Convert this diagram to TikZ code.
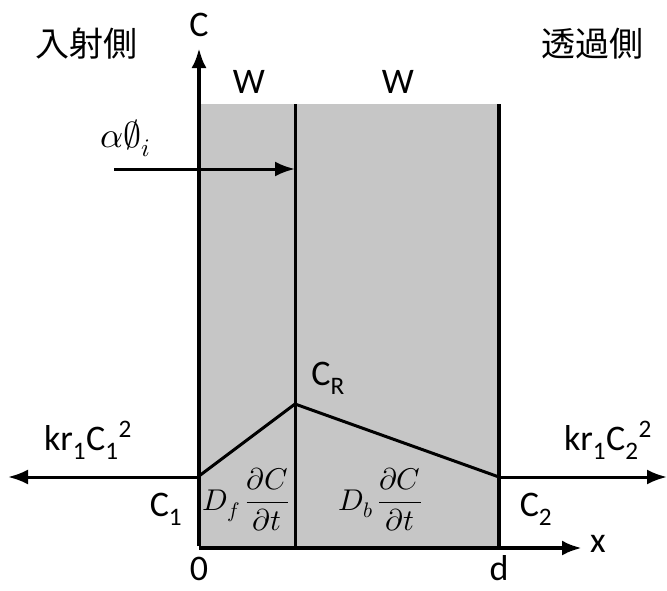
\documentclass[tikz,border=0pt]{standalone}
\usepackage{amsmath}
\usepackage{unicode-math}
\setmainfont{Carlito}
\setmathfont{Latin Modern Math}
\newfontfamily\jpfont{Noto Sans CJK JP}
\usetikzlibrary{arrows.meta}

\begin{document}
\begin{tikzpicture}[x=1pt,y=-1pt,
    lbl/.style={font=\fontsize{36}{40}\selectfont},
    axisline/.style={line width=4.5pt,-{Latex[length=20pt,width=15pt]}},
    wall/.style={line width=4.5pt},
    thinline/.style={line width=3pt},
    flux/.style={line width=3pt,-{Latex[length=20pt,width=15pt]}}]
      \useasboundingbox (0,0) rectangle (667,590);
      % membrane
      \fill [gray!45] (199,104) rectangle (499,548);
      \coordinate (O) at (199,548);
      \coordinate (Ctop) at (199,48);
      \coordinate (Xend) at (582,548);
      \coordinate (Mtop) at (295,104);
      \coordinate (Mbot) at (295,548);
      \coordinate (Rtop) at (499,104);
      \coordinate (Rbot) at (499,548);
      \coordinate (P1) at (199,476);
      \coordinate (PR) at (295,404);
      \coordinate (P2) at (499,477);
      \coordinate (Lend) at (8,477);
      \coordinate (Rend) at (667,477);
      \coordinate (Ain) at (114,169);
      \coordinate (Aout) at (295,169);
      \draw [thinline] (Mtop) -- (Mbot);
      \draw [wall] (Rtop) -- (Rbot);
      \draw [axisline] (O) -- (Xend);
      \draw [axisline] ([yshift=2pt]O) -- (Ctop);
      \draw [thinline,line join=round] (P1) -- (PR) -- (P2);
      \draw [flux] (P1 |- Lend) -- (Lend);
      \draw [flux] (P2) -- (Rend);
      \draw [flux] (Ain) -- (Aout);
      % labels
      \node [lbl] (ylab) at (199,25) {C};
      \node [lbl] (xlab) at (598,544) {x};
      \node [lbl] (zero) at (199,569) {0};
      \node [lbl] (dlab) at (499,568) {d};
      \node [lbl] (wleft) at (249,82) {W};
      \node [lbl] (wright) at (398,82) {W};
      \node [lbl,font=\fontsize{34}{38}\jpfont] (inc) at (86,44) {入射側};
      \node [lbl,font=\fontsize{34}{38}\jpfont] (tra) at (592,44) {透過側};
      \node [lbl] (alpha) at (126,138) {$\alpha\emptyset_i$};
      \node [lbl] (c1) at (166,509) {C\textsubscript{1}};
      \node [lbl] (c2) at (536,509) {C\textsubscript{2}};
      \node [lbl] (cr) at (328,378) {C\textsubscript{R}};
      \node [lbl] (kr1) at (88,440) {kr\textsubscript{1}C\textsubscript{1}\textsuperscript{2}};
      \node [lbl] (kr2) at (608,440) {kr\textsubscript{1}C\textsubscript{2}\textsuperscript{2}};
      \node [lbl,font=\fontsize{30}{34}\selectfont] (df) at (246,500) {$D_f\,\dfrac{\partial C}{\partial t}$};
      \node [lbl,font=\fontsize{30}{34}\selectfont] (db) at (380,500) {$D_b\,\dfrac{\partial C}{\partial t}$};
    \end{tikzpicture}
\end{document}
